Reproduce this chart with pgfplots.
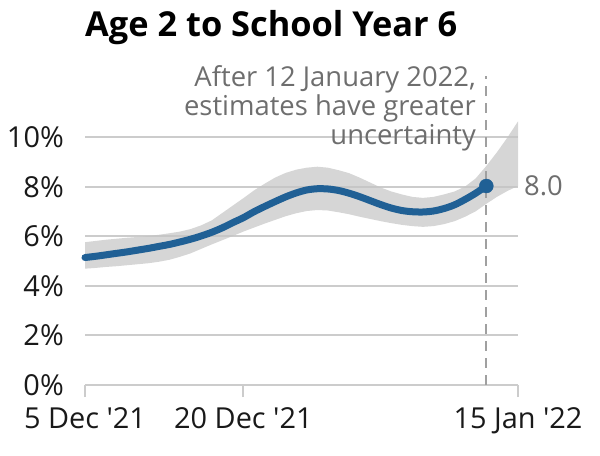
\documentclass[border=0pt]{standalone}
\usepackage{pgfplots}
\pgfplotsset{compat=1.18}
\usepgfplotslibrary{fillbetween}
\usepackage{fontspec}
\setmainfont{Open Sans}
\definecolor{onsblue}{HTML}{206095}
\definecolor{bandgray}{HTML}{C4C4C4}
\definecolor{gridgray}{HTML}{CCCCCC}
\definecolor{notegray}{HTML}{6E6E6E}
\definecolor{dashgray}{HTML}{A0A0A0}

% day (0 = 5 Dec 2021), lower and upper bound of the estimate, in %
\pgfplotstableread{
day lo hi
0 4.70 5.77
1 4.73 5.82
2 4.77 5.87
3 4.80 5.91
4 4.84 5.95
5 4.88 5.98
6 4.92 6.02
7 4.98 6.07
8 5.06 6.13
9 5.18 6.20
10 5.32 6.30
11 5.50 6.45
12 5.68 6.65
13 5.85 6.95
14 6.02 7.25
15 6.20 7.55
16 6.36 7.86
17 6.52 8.13
18 6.67 8.38
19 6.82 8.57
20 6.94 8.70
21 7.03 8.78
22 7.07 8.82
23 7.05 8.78
24 6.98 8.68
25 6.90 8.56
26 6.80 8.38
27 6.71 8.18
28 6.62 7.98
29 6.54 7.82
30 6.47 7.70
31 6.42 7.60
32 6.39 7.56
33 6.42 7.60
34 6.50 7.70
35 6.62 7.82
36 6.80 8.02
37 7.02 8.35
38 7.32 8.85
39 7.60 9.40
40 7.84 10.00
41 8.04 10.65
}\bandtable

% modelled estimate up to 12 Jan 2022
\pgfplotstableread{
day est
0 5.15
1 5.20
2 5.26
3 5.32
4 5.38
5 5.45
6 5.52
7 5.60
8 5.68
9 5.78
10 5.89
11 6.02
12 6.17
13 6.35
14 6.56
15 6.76
16 7.00
17 7.21
18 7.41
19 7.60
20 7.76
21 7.88
22 7.93
23 7.92
24 7.86
25 7.75
26 7.61
27 7.45
28 7.29
29 7.15
30 7.05
31 7.00
32 6.99
33 7.03
34 7.13
35 7.28
36 7.50
37 7.75
38 8.04
}\esttable

\pgfplotstableread{
day est
38 8.04
}\lasttable

\begin{document}
\begin{tikzpicture}
\path (0,0) rectangle (600bp,456bp);
\begin{axis}[
    at={(85bp,71bp)}, anchor=south west,
    scale only axis,
    width=433bp, height=247.5bp,
    xmin=0, xmax=41, ymin=0, ymax=10,
    clip=false,
    axis x line*=bottom,
    axis y line*=left,
    x axis line style={draw=gridgray, line width=2bp},
    y axis line style={draw=none},
    xtick={0,15,41},
    xticklabels={5 Dec \textquotesingle21, 20 Dec \textquotesingle21, 15 Jan \textquotesingle22},
    ytick={0,2,...,10},
    yticklabel={\pgfmathprintnumber{\tick}\%},
    /pgf/number format/assume math mode=true,
    tick align=outside,
    major tick length=12bp,
    xtick style={draw=gridgray, line width=2bp},
    ytick style={draw=none},
    ymajorgrids,
    grid style={draw=gridgray, line width=2bp},
    xticklabel style={font=\fontsize{29}{32}\selectfont, text=black!90, inner sep=0pt, anchor=north, yshift=-10bp},
    yticklabel style={font=\fontsize{29}{32}\selectfont, text=black!90, inner sep=0pt, anchor=east, xshift=-9bp},
]
\addplot[name path=hi, draw=none] table[x=day, y=hi] {\bandtable};
\addplot[name path=lo, draw=none] table[x=day, y=lo] {\bandtable};
\addplot[fill=bandgray, fill opacity=0.7, draw=none] fill between[of=hi and lo];

\draw[dashgray, line width=2bp, dash pattern=on 10bp off 7bp] (axis cs:38,0) -- (axis cs:38,12.5);

\addplot[onsblue, line width=7bp, smooth, line cap=round] table[x=day, y=est] {\esttable};
\addplot[only marks, mark=*, mark size=7bp, mark options={fill=onsblue, draw=onsblue}]
    table[x=day, y=est] {\lasttable};
\end{axis}

\node[anchor=base west, inner sep=0pt, font=\bfseries\fontsize{34.5}{38}\selectfont] at (85bp,419bp) {Age 2 to School Year 6};
\begin{scope}[every node/.style={anchor=base east, inner sep=0pt, text=notegray, font=\fontsize{27.5}{30}\selectfont}]
\node at (476bp,369bp) {After 12 January 2022,};
\node at (476bp,340bp) {estimates have greater};
\node at (476bp,311bp) {uncertainty};
\end{scope}
\node[anchor=west, inner sep=0pt, text=notegray, font=\fontsize{27.5}{30}\selectfont] at (524bp,270bp) {8.0};
\end{tikzpicture}
\end{document}
